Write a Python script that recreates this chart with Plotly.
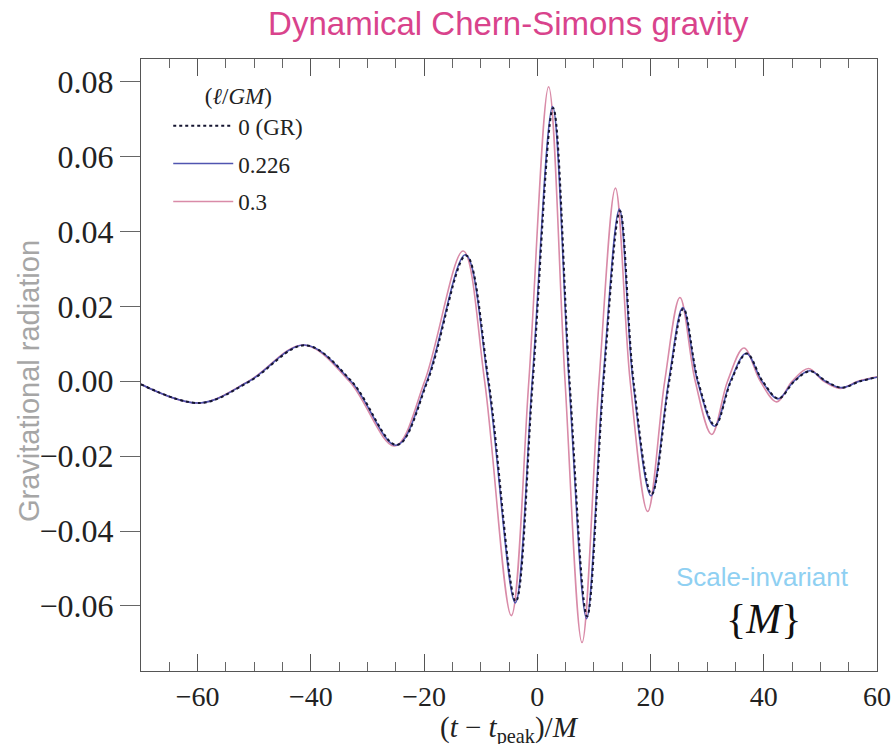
import plotly.graph_objects as go

# GR (ell/GM = 0) waveform: extrema and zero crossings
gr_t = [-70, -59.5, -50.8, -41.0, -32.8, -24.8, -19.4, -12.6, -8.6, -3.8, -0.8, 2.8,
        5.7, 8.8, 11.7, 14.6, 17.0, 20.2, 23.3, 25.8, 28.4, 31.4, 34.2, 37.0, 39.8,
        42.6, 45.4, 48.2, 51.0, 53.8, 57.0, 60]
gr_h = [-0.0008, -0.0058, 0.0, 0.0096, 0.0, -0.0170, 0.0, 0.0336, 0.0, -0.0588, 0.0, 0.0730,
        0.0, -0.0628, 0.0, 0.0455, 0.0, -0.0302, 0.0, 0.0194, 0.0, -0.0118, 0.0, 0.0074, 0.0,
        -0.0046, 0.0, 0.0027, 0.0, -0.0017, 0.0, 0.0011]

# ell/GM = 0.226
b_t = [-70, -59.6, -50.9, -41.1, -32.9, -24.9, -19.5, -12.7, -8.7, -3.9, -0.9, 2.7,
       5.6, 8.7, 11.6, 14.5, 16.9, 20.1, 23.2, 25.7, 28.3, 31.3, 34.1, 36.9, 39.7,
       42.5, 45.3, 48.1, 50.9, 53.7, 56.9, 60]
b_h = [-0.0008, -0.0058, 0.0, 0.0097, 0.0, -0.0171, 0.0, 0.0338, 0.0, -0.0592, 0.0, 0.0734,
       0.0, -0.0634, 0.0, 0.0460, 0.0, -0.0306, 0.0, 0.0197, 0.0, -0.0120, 0.0, 0.0075, 0.0,
       -0.0047, 0.0, 0.0028, 0.0, -0.0017, 0.0, 0.0011]

# ell/GM = 0.3
p_t = [-70, -59.7, -51.0, -41.3, -33.2, -25.2, -19.9, -13.1, -9.3, -4.6, -1.5, 2.0,
       4.9, 7.9, 10.9, 13.8, 16.4, 19.5, 22.5, 25.2, 27.9, 30.8, 33.6, 36.5, 39.4,
       42.3, 45.0, 47.9, 50.6, 53.5, 56.6, 60]
p_h = [-0.0008, -0.0058, 0.0, 0.0097, 0.0, -0.0173, 0.0, 0.0348, 0.0, -0.0626, 0.0, 0.0787,
       0.0, -0.0698, 0.0, 0.0516, 0.0, -0.0348, 0.0, 0.0224, 0.0, -0.0142, 0.0, 0.0089, 0.0,
       -0.0055, 0.0, 0.0034, 0.0, -0.0019, 0.0, 0.0012]

x_range = [-70, 60]
x_tick_step = 20
x_minor_step = 5
y_range = [-0.0774, 0.0861]
y_tick_step = 0.02

SERIF = "Liberation Serif, DejaVu Serif, serif"
SANS = "Liberation Sans, Arial, sans-serif"

fig = go.Figure()
fig.add_trace(go.Scatter(x=p_t, y=p_h, mode="lines", name="0.3", legendrank=3, legendgroup="c",
                         line=dict(color="#d98ba8", width=1.6, shape="spline", smoothing=1.0)))
fig.add_trace(go.Scatter(x=b_t, y=b_h, mode="lines", name="0.226", legendrank=2, legendgroup="b",
                         line=dict(color="#5055b0", width=1.6, shape="spline", smoothing=1.0)))
fig.add_trace(go.Scatter(x=gr_t, y=gr_h, mode="lines", name="0 (GR)", legendrank=1, legendgroup="a",
                         line=dict(color="#151530", width=2.0, dash="dot", shape="spline", smoothing=1.0)))

fig.update_layout(
    template="none",
    width=895, height=744,
    margin=dict(l=141, r=18, t=59, b=73),
    paper_bgcolor="white", plot_bgcolor="white",
    title=dict(text="Dynamical Chern-Simons gravity", x=0.568, xanchor="center",
               y=0.968, yanchor="middle",
               font=dict(family=SANS, size=33, color="#d9438c")),
    showlegend=True,
    legend=dict(x=0.037, y=0.975, xanchor="left", yanchor="top",
                bgcolor="rgba(0,0,0,0)",
                title=dict(text="\u00a0\u00a0\u00a0\u00a0\u00a0\u00a0(<i>\u2113</i>/<i>GM</i>)",
                           font=dict(family=SERIF, size=23, color="#222")),
                font=dict(family=SERIF, size=23, color="#222"),
                itemwidth=60, tracegroupgap=5, traceorder="grouped"),
    annotations=[
        dict(text="Gravitational radiation", x=-0.152, y=0.474, xref="paper", yref="paper",
             textangle=-90, showarrow=False, xanchor="center", yanchor="middle",
             font=dict(family=SANS, size=29, color="#a6a6a6")),
        dict(text="Scale-invariant", x=0.844, y=0.154, xref="paper", yref="paper",
             showarrow=False, xanchor="center", yanchor="middle",
             font=dict(family=SANS, size=26, color="#8fd0f2")),
        dict(text="{<i>M</i>}", x=0.846, y=0.085, xref="paper", yref="paper",
             showarrow=False, xanchor="center", yanchor="middle",
             font=dict(family=SERIF, size=42, color="#111")),
        dict(text="(<i>t</i> \u2212 <i>t</i><sub>peak</sub>)/<i>M</i>", x=0.5, y=-0.0621,
             xref="paper", yref="paper", showarrow=False, xanchor="center", yanchor="top",
             font=dict(family=SERIF, size=29, color="#222")),
    ],
)

fig.update_xaxes(
    range=x_range, tick0=0, dtick=x_tick_step,
    ticks="inside", ticklen=17, tickcolor="#555", tickwidth=1.2,
    minor=dict(ticks="inside", ticklen=9, dtick=x_minor_step, tickcolor="#666", tickwidth=1.2, showgrid=False),
    showline=True, linecolor="#555", linewidth=1.2, mirror="ticks",
    showgrid=False, zeroline=False, automargin=False,
    tickfont=dict(family=SERIF, size=28, color="#222"),
)
fig.update_yaxes(
    range=y_range, tick0=0, dtick=y_tick_step, tickformat=".2f",
    ticks="outside", ticklen=20, tickcolor="#666", tickwidth=1.2,
    showline=True, linecolor="#555", linewidth=1.2, mirror=True,
    showgrid=False, zeroline=False, automargin=False,
    tickfont=dict(family=SERIF, size=32, color="#222"),
)

fig.write_html("out.html")
